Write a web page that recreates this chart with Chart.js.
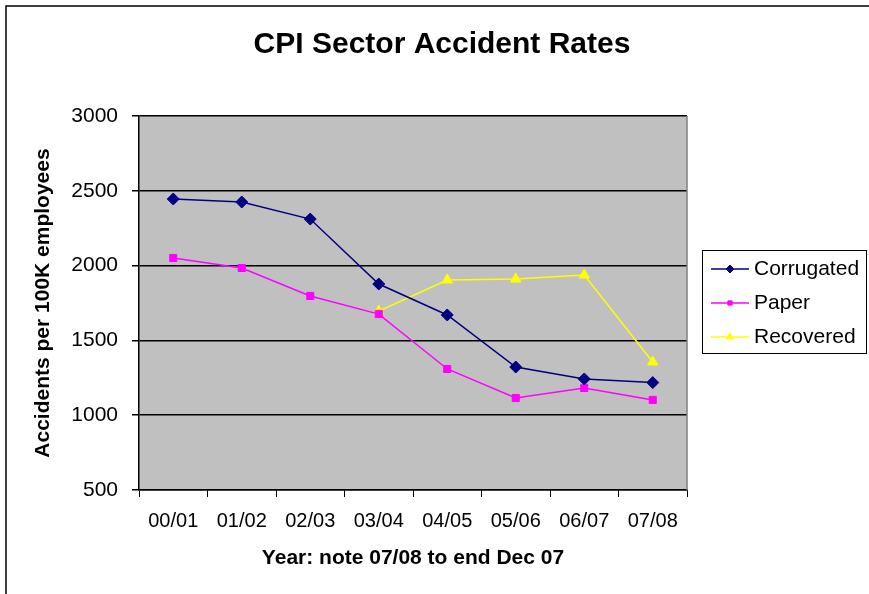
<!DOCTYPE html>
<html>
<head>
<meta charset="utf-8">
<script src="https://cdn.jsdelivr.net/npm/chart.js@4.4.1/dist/chart.umd.min.js"></script>
<style>
  html, body { margin: 0; padding: 0; background: #fff; }
  #wrap { width: 869px; height: 594px; }
</style>
</head>
<body>
<div id="wrap"><canvas id="chart" width="869" height="594"></canvas></div>
<script>
// categories and series
const years = ['00/01', '01/02', '02/03', '03/04', '04/05', '05/06', '06/07', '07/08'];
const corrugated = [2445, 2425, 2311, 1877, 1670, 1322, 1242, 1218];
const paper = [2051, 1984, 1797, 1676, 1309, 1115, 1182, 1102];
const recovered = [null, null, null, 1696, 1904, 1910, 1937, 1356];
const yTicks = [500, 1000, 1500, 2000, 2500, 3000];

const FONT = "'Liberation Sans', Arial, sans-serif";

// grey plot area, outer frame and the chart title
const frame = {
  id: 'frame',
  beforeDraw(chart) {
    const { ctx, chartArea: a } = chart;
    ctx.save();
    ctx.fillStyle = '#fff';
    ctx.fillRect(0, 0, chart.width, chart.height);
    ctx.fillStyle = '#c0c0c0';
    ctx.fillRect(a.left, a.top, a.right - a.left, a.bottom - a.top);
    ctx.strokeStyle = '#000';
    ctx.lineWidth = 1.5;
    ctx.strokeRect(6, 6, chart.width + 10, chart.height + 10);
    ctx.fillStyle = '#000';
    ctx.font = 'bold 30px ' + FONT;
    ctx.textAlign = 'center';
    ctx.textBaseline = 'middle';
    ctx.fillText('CPI Sector Accident Rates', 442, 45);
    ctx.restore();
  },
  afterDatasetsDraw(chart) {
    const { ctx, chartArea: a } = chart;
    ctx.save();
    ctx.strokeStyle = '#808080';
    ctx.lineWidth = 1.5;
    ctx.beginPath();
    ctx.moveTo(a.right, a.top);
    ctx.lineTo(a.right, a.bottom);
    ctx.stroke();
    ctx.restore();
  }
};

// Excel-like legend box with line + marker swatches
const boxLegend = {
  id: 'boxLegend',
  afterDraw(chart) {
    const { ctx } = chart;
    const x = 702, y = 250, w = 164, h = 103;
    ctx.save();
    ctx.fillStyle = '#fff';
    ctx.fillRect(x, y, w, h);
    ctx.strokeStyle = '#000';
    ctx.lineWidth = 1;
    ctx.strokeRect(x + 0.5, y + 0.5, w, h);
    ctx.font = '21px ' + FONT;
    ctx.textBaseline = 'middle';
    chart.data.datasets.forEach((ds, i) => {
      const cy = y + 19 + i * 34;
      ctx.strokeStyle = ds.borderColor;
      ctx.lineWidth = 1.5;
      ctx.beginPath();
      ctx.moveTo(x + 9, cy);
      ctx.lineTo(x + 47, cy);
      ctx.stroke();
      ctx.fillStyle = ds.pointBackgroundColor;
      ctx.strokeStyle = ds.pointBorderColor;
      ctx.lineWidth = 1;
      Chart.helpers.drawPoint(ctx, { pointStyle: ds.pointStyle, radius: ds.pointRadius - 2, borderWidth: 1 }, x + 28, cy);
      ctx.fillStyle = '#000';
      ctx.fillText(ds.label, x + 52, cy);
    });
    ctx.restore();
  }
};

new Chart(document.getElementById('chart'), {
  type: 'line',
  data: {
    labels: years,
    datasets: [
      {
        label: 'Corrugated', data: corrugated,
        borderColor: '#000080', backgroundColor: '#000080',
        pointStyle: 'rectRot', pointRadius: 6,
        pointBackgroundColor: '#000080', pointBorderColor: '#000080'
      },
      {
        label: 'Paper', data: paper,
        borderColor: '#ff00ff', backgroundColor: '#ff00ff',
        pointStyle: 'rect', pointRadius: 5,
        pointBackgroundColor: '#ff00ff', pointBorderColor: '#ff00ff'
      },
      {
        label: 'Recovered', data: recovered,
        borderColor: '#ffff00', backgroundColor: '#ffff00',
        pointStyle: 'triangle', pointRadius: 6,
        pointBackgroundColor: '#ffff00', pointBorderColor: '#ffff00'
      }
    ]
  },
  options: {
    responsive: false,
    animation: false,
    elements: {
      line: { borderWidth: 1.5, tension: 0 },
      point: { borderWidth: 1 }
    },
    layout: { padding: { left: 20, right: 182, top: 116, bottom: 0 } },
    plugins: {
      legend: { display: false },
      tooltip: { enabled: false },
      title: { display: false }
    },
    scales: {
      x: {
        offset: true,
        afterFit(scale) { scale.height = 104; },
        border: { color: '#000', width: 1.5 },
        grid: { offset: true, drawOnChartArea: false, color: '#000', tickLength: 7, lineWidth: 1 },
        ticks: { color: '#000', font: { family: FONT, size: 20 }, padding: 12, maxRotation: 0 },
        title: {
          display: true, text: 'Year: note 07/08 to end Dec 07', color: '#000',
          font: { family: FONT, size: 21, weight: 'bold' }, padding: { top: 0, bottom: 23 }
        }
      },
      y: {
        min: 500, max: 3000,
        afterBuildTicks(scale) { scale.ticks = yTicks.map(v => ({ value: v })); },
        afterFit(scale) { scale.width = 119; },
        border: { color: '#000', width: 1.5 },
        grid: { color: '#000', lineWidth: 1.5, tickLength: 7 },
        ticks: { color: '#000', font: { family: FONT, size: 21 }, padding: 14, callback: v => String(v) },
        title: {
          display: true, text: 'Accidents per 100K employees', color: '#000',
          font: { family: FONT, size: 21, weight: 'bold' }, padding: { top: 11, bottom: 0 }
        }
      }
    }
  },
  plugins: [frame, boxLegend]
});
</script>
</body>
</html>
